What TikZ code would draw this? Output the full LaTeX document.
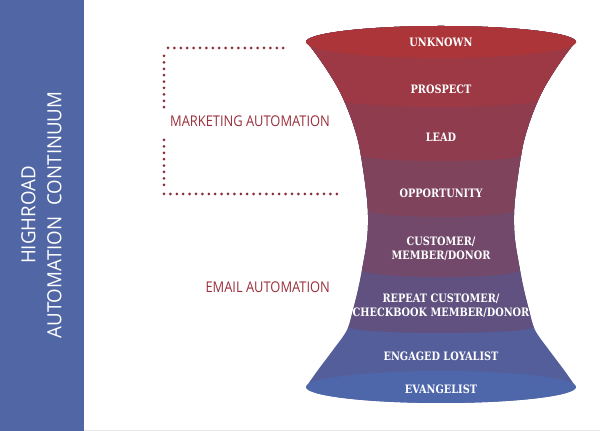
\documentclass[tikz,border=0pt]{standalone}
\usepackage{fontspec}
\setmainfont{Open Sans}
\newfontfamily\slabfont{DejaVu Serif}
\newfontfamily\labelfont{Open Sans}
\definecolor{sidebar}{HTML}{5167A5}
\definecolor{labelred}{HTML}{9A2F3B}
\definecolor{dotred}{HTML}{8C2A35}
\definecolor{bandA}{HTML}{AB3538}
\definecolor{bandB}{HTML}{9D3944}
\definecolor{bandC}{HTML}{8F3C4E}
\definecolor{bandD}{HTML}{7F435C}
\definecolor{bandE}{HTML}{72496B}
\definecolor{bandF}{HTML}{605180}
\definecolor{bandG}{HTML}{545E9B}
\definecolor{bandH}{HTML}{4E67AB}
\newcommand{\FunnelOutline}{plot[smooth,tension=0.6] coordinates {(306,389) (313,381) (327,361) (339,341) (348,321) (355,301) (360,281) (366,241) (368,216) (367,191) (362,161) (358,141) (353,121) (347,101) (333,81) (318,61) (306,44)}
  arc[start angle=180,end angle=360,x radius=135,y radius=16]
  -- plot[smooth,tension=0.6] coordinates {(576,44) (564,61) (549,81) (535,101) (529,121) (524,141) (520,161) (515,191) (514,216) (516,241) (522,281) (527,301) (534,321) (543,341) (555,361) (569,381) (576,389)}
  arc[start angle=0,end angle=180,x radius=135,y radius=16] -- cycle}
% region above a sagging boundary: #1 edge level, #2 half width, #3 sag
\newcommand{\AboveArc}[3]{(441-#2-80,#1) -- (441-#2,#1) arc[start angle=180,end angle=360,x radius=#2,y radius=#3] -- (441+#2+80,#1) -- (441+#2+80,425) -- (441-#2-80,425) -- cycle}
\begin{document}
\begin{tikzpicture}[x=1pt,y=1pt,
  stage/.style={text=white, font=\slabfont\bfseries\fontsize{11.6}{14}\selectfont, align=center, xscale=0.84, inner sep=0pt},
  sidelabel/.style={text=labelred, font=\labelfont\fontsize{14.8}{17}\selectfont, xscale=0.87, inner sep=0pt, anchor=east},
  dotline/.style={draw=dotred, line width=3pt, line cap=round, dash pattern=on 0pt off 6.4pt},
  sidetitle/.style={text=white, font=\labelfont\fontsize{19.5}{26}\selectfont, align=center, rotate=90, xscale=0.96, inner sep=0pt}]
\useasboundingbox (0,0) rectangle (600,431);
\fill[white] (0,0) rectangle (600,431);
\fill[sidebar] (0,0) rectangle (84,431);
\draw[black!10, line width=1.2pt] (84,0.6) -- (600,0.6);
\node[sidetitle] (title) at (41.5,216) {HIGHROAD\\AUTOMATION\hspace{0.6em}CONTINUUM};

% funnel
\fill[bandG] \FunnelOutline;
\begin{scope}
  \clip \FunnelOutline;
  \fill[bandF] \AboveArc{104}{93}{6};
  \fill[bandE] \AboveArc{161}{79}{7};
  \fill[bandD] \AboveArc{221}{73}{7};
  \fill[bandC] \AboveArc{276}{81}{6};
  \fill[bandB] \AboveArc{331}{98}{7};
\end{scope}
\fill[bandA] (441,389) ellipse[x radius=135,y radius=16];
\fill[bandH] (441,44) ellipse[x radius=135,y radius=16];

\node[stage] (unknown) at (441,389) {UNKNOWN};
\node[stage] (prospect) at (441,342) {PROSPECT};
\node[stage] (lead) at (441,294) {LEAD};
\node[stage] (opp) at (441,238) {OPPORTUNITY};
\node[stage] (cust) at (441,182) {CUSTOMER/\\MEMBER/DONOR};
\node[stage] (repeat) at (441,125) {REPEAT CUSTOMER/\\CHECKBOOK MEMBER/DONOR};
\node[stage] (engaged) at (441,75) {ENGAGED LOYALIST};
\node[stage] (evang) at (441,42) {EVANGELIST};

% labels
\node[sidelabel] (mkt) at (330,310) {MARKETING AUTOMATION};
\node[sidelabel] (email) at (330,144) {EMAIL AUTOMATION};

% dotted bracket
\coordinate (t1) at (168,383);
\coordinate (t2) at (284,383);
\coordinate (v1) at (164,375);
\coordinate (v2) at (164,320);
\coordinate (v3) at (164,291);
\coordinate (v4) at (164,244);
\coordinate (b1) at (164,237);
\coordinate (b2) at (338,237);
\draw[dotline] (t1) -- (t2);
\draw[dotline] (v1) -- (v2);
\draw[dotline] (v3) -- (v4);
\draw[dotline] (b1) -- (b2);
\end{tikzpicture}
\end{document}
